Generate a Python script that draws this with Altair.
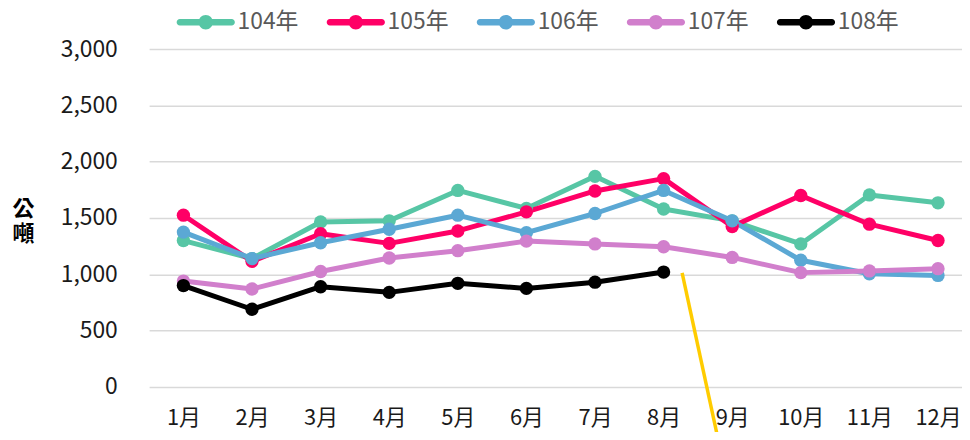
import altair as alt
import pandas as pd

# ---- data ----
month_num = [1, 2, 3, 4, 5, 6, 7, 8, 9, 10, 11, 12]
years = ["104年", "105年", "106年", "107年", "108年"]
colors = ["#57C6A5", "#FF0066", "#5BA8D4", "#D17FCC", "#000000"]
y104 = [1300, 1140, 1465, 1475, 1745, 1585, 1870, 1580, 1475, 1270, 1705, 1635]
y105 = [1525, 1115, 1360, 1275, 1385, 1555, 1740, 1850, 1425, 1700, 1445, 1300]
y106 = [1375, 1140, 1280, 1400, 1525, 1370, 1540, 1745, 1475, 1125, 1005, 990]
y107 = [940, 870, 1025, 1145, 1210, 1295, 1270, 1245, 1150, 1015, 1030, 1050]
y108 = [900, 690, 890, 840, 920, 875, 930, 1020]
y_ticks = [0, 500, 1000, 1500, 2000, 2500, 3000]
# stray yellow annotation line (data coordinates: month, value)
annot_x = [8.27, 8.8]
annot_y = [1012, -480]

series = [y104, y105, y106, y107, y108]
rows = []
for yr, vals in zip(years, series):
    for m, v in zip(month_num, vals):
        rows.append({"m": m, "v": v, "year": yr})
df = pd.DataFrame(rows)
df_annot = pd.DataFrame({"m": annot_x, "v": annot_y})

FONT = "Noto Sans CJK TC"
# legend glyph: rounded bar with a dot in the middle
legend_path = ("M-0.9,-0.11H0.9A0.11,0.11 0 0,1 0.9,0.11H-0.9A0.11,0.11 0 0,1 -0.9,-0.11Z "
               "M-0.25,0A0.25,0.25 0 1,1 0.25,0A0.25,0.25 0 1,1 -0.25,0Z")

leg = alt.Legend(
    title=None, orient="none", legendX=28, legendY=-56, direction="horizontal",
    symbolType=legend_path, symbolSize=3364, symbolStrokeWidth=0, symbolOpacity=1,
    labelFontSize=23, labelColor="#595959", labelFont=FONT, labelOffset=3,
    columnPadding=27, padding=0,
)

x_enc = alt.X(
    "m:Q",
    scale=alt.Scale(domain=[0.5, 12.35], nice=False, zero=False),
    axis=alt.Axis(
        values=month_num, labelExpr="datum.value + '月'", grid=False, ticks=False,
        tickSize=0, domain=False, labelFontSize=22, labelPadding=21,
        labelColor="#1a1a1a", labelOverlap=False, labelFlush=False, title=None,
    ),
)
y_enc = alt.Y(
    "v:Q",
    scale=alt.Scale(domain=[0, 3000], nice=False),
    axis=alt.Axis(
        values=y_ticks, labelExpr="format(datum.value, ',')", grid=True,
        gridColor="#D9D9D9", gridWidth=1.5,
        ticks=False, tickSize=0, domain=False, labelFontSize=23, labelPadding=32,
        labelColor="#1a1a1a", title=["公", "噸"], titleAngle=0, titleX=-127,
        titleY=160, titleAlign="center", titleBaseline="middle", titleFontSize=22,
        titleFontWeight="bold", titleLineHeight=26, titleColor="#000000",
    ),
)
color_enc = alt.Color("year:N", scale=alt.Scale(domain=years, range=colors), legend=leg)

lines = alt.Chart(df).mark_line(strokeWidth=5, strokeCap="round", strokeJoin="round").encode(
    x=x_enc, y=y_enc, color=color_enc
)
points = alt.Chart(df).mark_circle(size=180, opacity=1).encode(
    x=x_enc, y=y_enc, color=color_enc
)
annot = alt.Chart(df_annot).mark_line(color="#FFCC00", strokeWidth=3.5, clip=False).encode(
    x=alt.X("m:Q"), y=alt.Y("v:Q")
)

chart = (
    alt.layer(lines, points, annot)
    .properties(
        width=818, height=340,
        padding={"left": 142, "top": 40, "right": 0, "bottom": 44},
        autosize=alt.AutoSizeParams(type="none"),
    )
    .configure(font=FONT)
    .configure_view(stroke=None)
)

chart.save("out.html", embed_options={"renderer": "svg", "actions": False})
